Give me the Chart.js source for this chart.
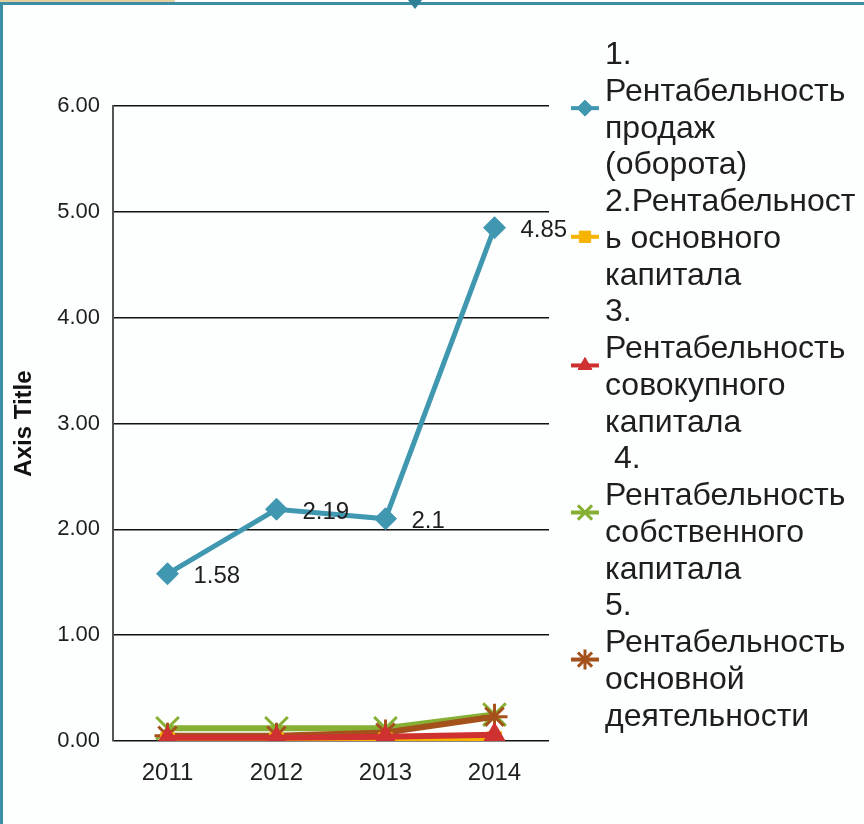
<!DOCTYPE html>
<html>
<head>
<meta charset="utf-8">
<script src="https://cdn.jsdelivr.net/npm/chart.js@4.4.1/dist/chart.umd.min.js"></script>
<style>
  html, body { margin: 0; padding: 0; background: #ffffff; }
  #page { position: absolute; left: 0; top: 0; width: 864px; height: 824px; overflow: hidden; background: #fdfefe; }
  #page canvas { position: absolute; left: 0; top: 0; }
  .strip { position: absolute; left: 0; top: 0; width: 175px; height: 2px; background: #e3cf9f; }
  .edge-top { position: absolute; left: 0; top: 2px; width: 864px; height: 3px; background: #3b8ea3; }
  .edge-left { position: absolute; left: 0; top: 2px; width: 3px; height: 822px; background: #3b8ea3; }
  .notch { position: absolute; left: 408px; top: 0; width: 0; height: 0;
           border-left: 7px solid transparent; border-right: 7px solid transparent; border-top: 9px solid #2f7f96; }
</style>
</head>
<body>
<div id="page">
  <canvas id="chart" width="864" height="824"></canvas>
  <div class="strip"></div>
  <div class="edge-top"></div>
  <div class="edge-left"></div>
  <div class="notch"></div>
</div>
<script>
// Years on the category axis
const years = ['2011', '2012', '2013', '2014'];

// Profitability indicators by year
const salesReturn        = [1.58, 2.19, 2.1, 4.85];
const fixedCapitalReturn = [0.01, 0.01, 0.01, 0.02];
const totalCapitalReturn = [0.03, 0.03, 0.04, 0.06];
const equityReturn       = [0.12, 0.12, 0.12, 0.25];
const coreActivityReturn = [0.05, 0.05, 0.08, 0.23];

// Legend captions, already broken into lines
const seriesNames = [
  ['1.', 'Рентабельность', 'продаж', '(оборота)'],
  ['2.Рентабельност', 'ь основного', 'капитала'],
  ['3.', 'Рентабельность', 'совокупного', 'капитала'],
  [' 4.', 'Рентабельность', 'собственного', 'капитала'],
  ['5.', 'Рентабельность', 'основной', 'деятельности']
];

// Y axis tick values
const yTicks = [0, 1, 2, 3, 4, 5, 6];
const yAxisTitle = 'Axis Title';

const FONT = '"Liberation Sans", Arial, sans-serif';
const TEXT = '#1e1e1e';

// Value labels to the right of the first series' points
const valueLabels = {
  id: 'valueLabels',
  afterDatasetsDraw(chart) {
    const ctx = chart.ctx;
    const meta = chart.getDatasetMeta(0);
    const values = chart.data.datasets[0].data;
    ctx.save();
    ctx.font = '24px ' + FONT;
    ctx.fillStyle = TEXT;
    ctx.textAlign = 'left';
    ctx.textBaseline = 'middle';
    meta.data.forEach((pt, i) => {
      ctx.fillText(String(values[i]), pt.x + 26, pt.y + 3);
    });
    ctx.restore();
  }
};

// Legend on the right with multi-line captions
const sideLegend = {
  id: 'sideLegend',
  afterDraw(chart) {
    const ctx = chart.ctx;
    const lineH = 36.76;
    const textX = 605;
    const markX = 585;
    let baseline = 64;
    ctx.save();
    ctx.font = '32px ' + FONT;
    ctx.textAlign = 'left';
    ctx.textBaseline = 'alphabetic';
    chart.data.datasets.forEach((ds, i) => {
      const lines = seriesNames[i];
      const first = baseline;
      lines.forEach((t) => {
        ctx.fillStyle = TEXT;
        ctx.fillText(t, textX, baseline);
        baseline += lineH;
      });
      const last = baseline - lineH;
      const cy = (first + last) / 2 - 11;
      ctx.strokeStyle = ds.borderColor;
      ctx.lineWidth = 4;
      ctx.beginPath();
      ctx.moveTo(markX - 14, cy);
      ctx.lineTo(markX + 14, cy);
      ctx.stroke();
      ctx.fillStyle = ds.pointBackgroundColor;
      ctx.strokeStyle = ds.pointBorderColor;
      ctx.lineWidth = ds.pointBorderWidth;
      Chart.helpers.drawPoint(ctx, {
        pointStyle: ds.pointStyle,
        radius: ds.legendRadius,
        rotation: 0,
        borderWidth: ds.pointBorderWidth
      }, markX, cy);
    });
    ctx.restore();
  }
};

new Chart(document.getElementById('chart'), {
  type: 'line',
  data: {
    labels: years,
    datasets: [
      {
        label: seriesNames[0].join(' '),
        data: salesReturn,
        borderColor: '#3f97b0', backgroundColor: '#3f97b0',
        borderWidth: 5,
        pointStyle: 'rectRot', pointRadius: 11, legendRadius: 8,
        pointBackgroundColor: '#3f97b0', pointBorderColor: '#3f97b0', pointBorderWidth: 1,
        order: 1
      },
      {
        label: seriesNames[1].join(' '),
        data: fixedCapitalReturn,
        borderColor: '#f6b400', backgroundColor: '#f6b400',
        borderWidth: 6,
        pointStyle: 'rect', pointRadius: 10, legendRadius: 8,
        pointBackgroundColor: '#f6b400', pointBorderColor: '#f6b400', pointBorderWidth: 1,
        order: 3
      },
      {
        label: seriesNames[2].join(' '),
        data: totalCapitalReturn,
        borderColor: '#cf3030', backgroundColor: '#cf3030',
        borderWidth: 6,
        pointStyle: 'triangle', pointRadius: 12, legendRadius: 8,
        pointBackgroundColor: '#cf3030', pointBorderColor: '#cf3030', pointBorderWidth: 1,
        order: 2
      },
      {
        label: seriesNames[3].join(' '),
        data: equityReturn,
        borderColor: '#86b034', backgroundColor: '#86b034',
        borderWidth: 6,
        pointStyle: 'crossRot', pointRadius: 16, legendRadius: 10,
        pointBackgroundColor: '#86b034', pointBorderColor: '#86b034', pointBorderWidth: 3,
        order: 5
      },
      {
        label: seriesNames[4].join(' '),
        data: coreActivityReturn,
        borderColor: '#a5511c', backgroundColor: '#a5511c',
        borderWidth: 6,
        pointStyle: 'star', pointRadius: 13, legendRadius: 10,
        pointBackgroundColor: '#a5511c', pointBorderColor: '#a5511c', pointBorderWidth: 3,
        order: 4
      }
    ]
  },
  options: {
    responsive: false,
    animation: false,
    devicePixelRatio: 1,
    layout: { padding: { top: 106, right: 315, bottom: 0, left: 0 } },
    plugins: {
      legend: { display: false },
      tooltip: { enabled: false },
      title: { display: false }
    },
    elements: { line: { tension: 0 } },
    scales: {
      x: {
        offset: true,
        grid: { display: false, drawTicks: false },
        border: { display: false },
        ticks: { font: { family: FONT, size: 24 }, color: TEXT, padding: 18 },
        afterFit(scale) { scale.height = 83; }
      },
      y: {
        min: 0, max: 6,
        afterBuildTicks(scale) { scale.ticks = yTicks.map(v => ({ value: v })); },
        ticks: {
          font: { family: FONT, size: 22 }, color: TEXT, padding: 13,
          callback: v => Number(v).toFixed(2)
        },
        grid: { color: '#111111', lineWidth: 1.5, drawTicks: false },
        border: { display: true, color: '#555555', width: 2 },
        title: {
          display: true, text: yAxisTitle, color: '#111111',
          font: { family: FONT, size: 24, weight: 'bold' },
          padding: { top: 10, bottom: 0 }
        },
        afterFit(scale) { scale.width = 113; }
      }
    }
  },
  plugins: [valueLabels, sideLegend]
});
</script>
</body>
</html>
